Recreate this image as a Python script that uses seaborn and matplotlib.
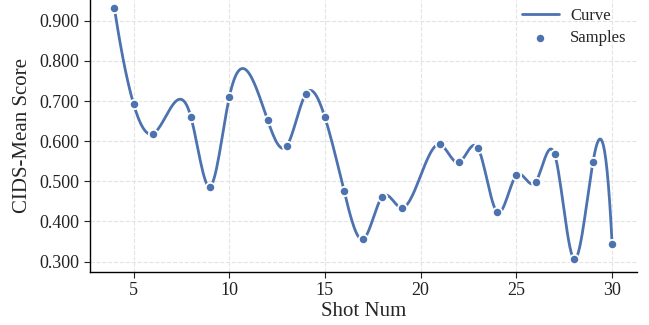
import numpy as np
import pandas as pd
import matplotlib
matplotlib.use("Agg")
import matplotlib.pyplot as plt
import seaborn as sns

# sample points
shot_num = [4, 5, 6, 8, 9, 10, 12, 13, 14, 15, 16, 17, 18, 19,
            21, 22, 23, 24, 25, 26, 27, 28, 29, 30]
mean_score = [0.931, 0.693, 0.618, 0.660, 0.487, 0.709, 0.653, 0.588, 0.718, 0.659,
              0.476, 0.356, 0.462, 0.434, 0.592, 0.547, 0.582, 0.423, 0.515, 0.498,
              0.567, 0.307, 0.548, 0.344]
x_ticks = [5, 10, 15, 20, 25, 30]
y_ticks = [0.3, 0.4, 0.5, 0.6, 0.7, 0.8, 0.9]


def not_a_knot_spline(x, y, xs):
    # cubic spline through the samples (same as scipy make_interp_spline k=3)
    x = np.asarray(x, float)
    y = np.asarray(y, float)
    n = len(x)
    h = np.diff(x)
    d = np.diff(y) / h
    A = np.zeros((n, n))
    b = np.zeros(n)
    A[0, 0], A[0, 1], A[0, 2] = h[1], -(h[0] + h[1]), h[0]
    A[-1, -3], A[-1, -2], A[-1, -1] = h[-1], -(h[-2] + h[-1]), h[-2]
    for i in range(1, n - 1):
        A[i, i - 1] = h[i - 1]
        A[i, i] = 2 * (h[i - 1] + h[i])
        A[i, i + 1] = h[i]
        b[i] = 6 * (d[i] - d[i - 1])
    M = np.linalg.solve(A, b)
    idx = np.clip(np.searchsorted(x, xs) - 1, 0, n - 2)
    x0, x1 = x[idx], x[idx + 1]
    hh = x1 - x0
    return (M[idx] * (x1 - xs) ** 3 / (6 * hh) + M[idx + 1] * (xs - x0) ** 3 / (6 * hh)
            + (y[idx] / hh - M[idx] * hh / 6) * (x1 - xs)
            + (y[idx + 1] / hh - M[idx + 1] * hh / 6) * (xs - x0))


xs = np.linspace(min(shot_num), max(shot_num), 400)
curve = pd.DataFrame({"shot": xs, "score": not_a_knot_spline(shot_num, mean_score, xs)})
samples = pd.DataFrame({"shot": shot_num, "score": mean_score})

sns.set_style("ticks")
plt.rcParams["font.family"] = ["Liberation Serif", "DejaVu Serif"]

color = "#4C72B0"
fig = plt.figure(figsize=(6.49, 3.25), dpi=100)
ax = fig.add_axes([89.5 / 649, 1 - 271.7 / 325, (637 - 89.5) / 649, 271.7 / 325])

sns.lineplot(data=curve, x="shot", y="score", ax=ax, color=color, linewidth=2.0,
             label="Curve", zorder=2)
sns.scatterplot(data=samples, x="shot", y="score", ax=ax, color=color, s=45,
                edgecolor="white", linewidth=1.3, label="Samples", zorder=3)

ax.set_xlim(2.7, 31.3)
ax.set_ylim(0.275, 0.9515)
ax.set_xticks(x_ticks)
ax.set_yticks(y_ticks)
ax.set_yticklabels([f"{v:.3f}" for v in y_ticks])
ax.tick_params(labelsize=13, length=4, width=0.8, colors="#222222")
ax.grid(True, linestyle="--", color="#e3e3e3", linewidth=0.8)
ax.set_axisbelow(True)
ax.set_xlabel("Shot Num", fontsize=15, labelpad=2)
ax.set_ylabel("CIDS-Mean Score", fontsize=15, labelpad=5)
for s in ["left", "bottom"]:
    ax.spines[s].set_color("black")
    ax.spines[s].set_linewidth(1.0)
sns.despine(ax=ax)

ax.legend(loc="upper right", frameon=False, fontsize=12, handlelength=2.2,
          borderaxespad=0.05, labelspacing=0.4, handletextpad=0.7,
          bbox_to_anchor=(0.995, 1.0))

fig.savefig("out.png", dpi=100)
